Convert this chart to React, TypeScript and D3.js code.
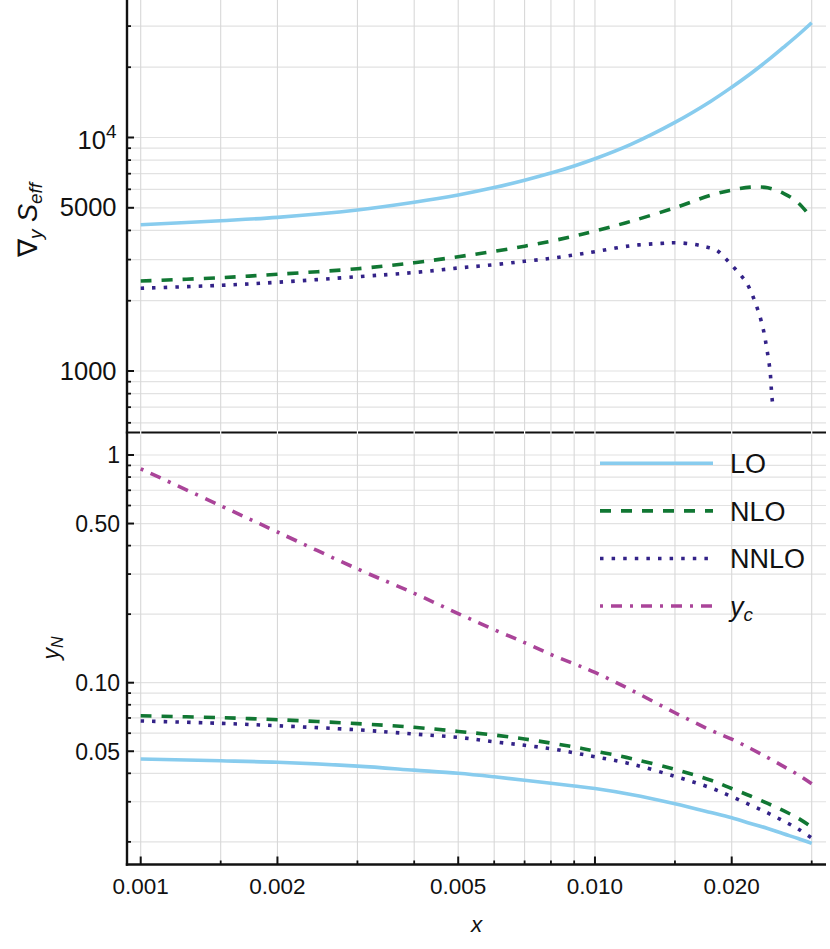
import React from "react";
import * as d3 from "d3";

// shared x grid for most series
const xs = [0.001, 0.0015, 0.002, 0.003, 0.004, 0.005, 0.006, 0.007, 0.008, 0.009, 0.01, 0.012, 0.015, 0.018, 0.02, 0.022, 0.024, 0.026, 0.028, 0.03];

// upper panel: grad_y S_eff
const loTop = [4233, 4403, 4551, 4893, 5279, 5671, 6101, 6561, 7040, 7554, 8110, 9350, 11610, 14310, 16420, 18760, 21380, 24320, 27480, 31010];
const nloTop = [2429, 2510, 2595, 2742, 2909, 3087, 3254, 3424, 3598, 3781, 3973, 4376, 5002, 5665, 5953, 6130, 6090, 5768, 5258, 4508];
const nnloTopX = [0.001, 0.0015, 0.002, 0.003, 0.004, 0.005, 0.006, 0.007, 0.008, 0.009, 0.01, 0.012, 0.014, 0.015, 0.0165, 0.0175, 0.0185, 0.0193, 0.02, 0.0208, 0.0216, 0.0226, 0.0234, 0.0239, 0.0243, 0.0245, 0.02465];
const nnloTop = [2261, 2328, 2399, 2534, 2641, 2761, 2853, 2950, 3038, 3140, 3243, 3440, 3520, 3544, 3488, 3404, 3297, 3060, 2844, 2610, 2374, 1936, 1548, 1242, 994, 788, 703];

// lower panel: y_N
const loBot = [0.0462, 0.0454, 0.0447, 0.043, 0.0413, 0.04, 0.0386, 0.0373, 0.0362, 0.0352, 0.0343, 0.0323, 0.0294, 0.0269, 0.0255, 0.0241, 0.0229, 0.0217, 0.0207, 0.0197];
const nloBot = [0.0716, 0.0702, 0.0688, 0.0661, 0.0637, 0.0611, 0.0589, 0.0566, 0.0543, 0.0522, 0.0501, 0.0465, 0.0416, 0.0373, 0.0343, 0.0318, 0.0295, 0.0274, 0.0254, 0.0232];
const nnloBot = [0.0679, 0.0663, 0.0647, 0.0621, 0.0595, 0.0575, 0.055, 0.0531, 0.0513, 0.0492, 0.0473, 0.044, 0.0388, 0.0345, 0.0316, 0.029, 0.0268, 0.0247, 0.0228, 0.0208];
const ycBot = [0.87, 0.599, 0.459, 0.316, 0.247, 0.201, 0.171, 0.15, 0.133, 0.121, 0.111, 0.093, 0.0738, 0.0618, 0.0565, 0.0514, 0.0469, 0.0429, 0.0394, 0.036];

// ticks
const xMajor = [0.001, 0.002, 0.005, 0.01, 0.02];
const xMajorLabels = ["0.001", "0.002", "0.005", "0.010", "0.020"];
const xMinor = [0.0015, 0.003, 0.004, 0.006, 0.007, 0.008, 0.009, 0.015, 0.03];
const topMajor = [1000, 5000, 10000];
const topMinor = [600, 700, 800, 900, 2000, 3000, 4000, 6000, 7000, 8000, 9000, 20000, 30000];
const botMajor = [0.05, 0.1, 0.5, 1];
const botMajorLabels = ["0.05", "0.10", "0.50", "1"];
const botMinor = [0.02, 0.03, 0.04, 0.06, 0.07, 0.08, 0.09, 0.2, 0.3, 0.4, 0.6, 0.7, 0.8, 0.9];

const legendNames = ["LO", "NLO", "NNLO", "y_c"];

const colors = { lo: "#88CCEE", nlo: "#117733", nnlo: "#332288", yc: "#AA4499" };
const dashes = { lo: "none", nlo: "11 10", nnlo: "3.5 8.1", yc: "3 8 11 8" };

const W = 830;
const H = 949;
const L = 127;
const R = 826;
const topA = 0;
const mid = 432.5;
const botB = 864.5;
const font = "'Liberation Sans', Arial, Helvetica, sans-serif";

export default function App() {
  const x = d3.scaleLog().domain([0.001, 0.03]).range([140.7, 811.7]);
  const yTop = d3.scaleLog().domain([1000, 10000]).range([371, 137.5]);
  const yBot = d3.scaleLog().domain([0.1, 1]).range([682.7, 455]);

  const lineTop = d3
    .line<[number, number]>()
    .x((d) => x(d[0]))
    .y((d) => yTop(d[1]))
    .curve(d3.curveCatmullRom.alpha(0.5));
  const lineBot = d3
    .line<[number, number]>()
    .x((d) => x(d[0]))
    .y((d) => yBot(d[1]))
    .curve(d3.curveCatmullRom.alpha(0.5));

  const zip = (a: number[], b: number[]) => a.map((v, i) => [v, b[i]] as [number, number]);

  const xAll = [...xMajor, ...xMinor];
  const topAll = [...topMajor, ...topMinor];
  const botAll = [...botMajor, ...botMinor];

  const series = [
    { key: "lo", top: zip(xs, loTop), bot: zip(xs, loBot) },
    { key: "nlo", top: zip(xs, nloTop), bot: zip(xs, nloBot) },
    { key: "nnlo", top: zip(nnloTopX, nnloTop), bot: zip(xs, nnloBot) },
    { key: "yc", top: null, bot: zip(xs, ycBot) },
  ];

  const legendY = d3.scaleLinear().domain([0, 3]).range([463.3, 606]);

  return (
    <svg
      width={W}
      height={H}
      style={{ position: "absolute", left: 0, top: 0, background: "#fff" }}
      fontFamily={font}
    >
      <rect width={W} height={H} fill="#fff" />
      {/* grid */}
      <g>
        {topAll.map((v) => (
          <line key={"gt" + v} x1={L} x2={R} y1={yTop(v)} y2={yTop(v)} stroke="#e2e2e2" strokeWidth={1.2} />
        ))}
        {botAll.map((v) => (
          <line key={"gb" + v} x1={L} x2={R} y1={yBot(v)} y2={yBot(v)} stroke="#e2e2e2" strokeWidth={1.2} />
        ))}
        {xAll.map((v) => (
          <line key={"gx" + v} x1={x(v)} x2={x(v)} y1={topA} y2={botB} stroke="#d8d8d8" strokeWidth={1.1} />
        ))}
      </g>

      {/* curves */}
      {series.map((s) => (
        <g key={s.key}>
          {s.top && (
            <path
              d={lineTop(s.top) || ""}
              fill="none"
              stroke={colors[s.key]}
              strokeWidth={3.6}
              strokeDasharray={dashes[s.key]}
            />
          )}
          <path
            d={lineBot(s.bot) || ""}
            fill="none"
            stroke={colors[s.key]}
            strokeWidth={3.6}
            strokeDasharray={dashes[s.key]}
          />
        </g>
      ))}

      {/* axes */}
      <line x1={L} x2={L} y1={topA} y2={botB + 1.2} stroke="#111" strokeWidth={2.4} />
      <line x1={L - 1.2} x2={R} y1={mid} y2={mid} stroke="#111" strokeWidth={2.2} />
      <line x1={L - 1.2} x2={R} y1={botB} y2={botB} stroke="#111" strokeWidth={2.4} />
      {xAll.map((v) => (
        <line key={"wg" + v} x1={x(v)} x2={x(v)} y1={mid - 2} y2={mid + 2} stroke="#fff" strokeWidth={1.2} />
      ))}

      {/* y ticks */}
      {topMajor.map((v) => (
        <line key={"tm" + v} x1={L} x2={L + 7} y1={yTop(v)} y2={yTop(v)} stroke="#111" strokeWidth={2} />
      ))}
      {topMinor.map((v) => (
        <line key={"tn" + v} x1={L} x2={L + 4} y1={yTop(v)} y2={yTop(v)} stroke="#111" strokeWidth={1.8} />
      ))}
      {botMajor.map((v) => (
        <line key={"bm" + v} x1={L} x2={L + 7} y1={yBot(v)} y2={yBot(v)} stroke="#111" strokeWidth={2} />
      ))}
      {botMinor.map((v) => (
        <line key={"bn" + v} x1={L} x2={L + 4} y1={yBot(v)} y2={yBot(v)} stroke="#111" strokeWidth={1.8} />
      ))}
      {xMajor.map((v) => (
        <line key={"xm" + v} x1={x(v)} x2={x(v)} y1={botB} y2={botB - 8} stroke="#111" strokeWidth={2} />
      ))}
      {xMinor.map((v) => (
        <line key={"xn" + v} x1={x(v)} x2={x(v)} y1={botB} y2={botB - 4} stroke="#111" strokeWidth={1.8} />
      ))}

      {/* tick labels */}
      {topMajor.map((v) =>
        v === 10000 ? (
          <text key={"tl" + v} x={116.5} y={yTop(v) + 11.8} textAnchor="end" fontSize={25.5} fill="#111">
            10
            <tspan dy={-11} fontSize={19}>4</tspan>
          </text>
        ) : (
          <text key={"tl" + v} x={116.5} y={yTop(v)} dy="0.34em" textAnchor="end" fontSize={25.5} fill="#111">
            {d3.format("d")(v)}
          </text>
        )
      )}
      {botMajor.map((v, i) => (
        <text key={"bl" + v} x={120} y={yBot(v)} dy="0.36em" textAnchor="end" fontSize={23} fill="#111">
          {botMajorLabels[i]}
        </text>
      ))}
      {xMajor.map((v, i) => (
        <text key={"xl" + v} x={x(v)} y={893.5} textAnchor="middle" fontSize={22.5} fill="#111">
          {xMajorLabels[i]}
        </text>
      ))}

      {/* axis titles */}
      <text x={476.5} y={931.5} textAnchor="middle" fontSize={22.5} fontStyle="italic" fill="#111">
        x
      </text>
      <text transform="translate(37,220) rotate(-90)" textAnchor="middle" fontSize={27} fill="#111">
        ∇
        <tspan fontStyle="italic" fontSize={19} dy={5}>y</tspan>
        <tspan dy={-5}> </tspan>
        <tspan fontStyle="italic">S</tspan>
        <tspan fontStyle="italic" fontSize={19} dy={5}>eff</tspan>
      </text>
      <text transform="translate(59,648) rotate(-90)" textAnchor="middle" fontSize={23} fill="#111">
        <tspan fontStyle="italic">y</tspan>
        <tspan fontStyle="italic" fontSize={16} dy={4}>N</tspan>
      </text>

      {/* legend */}
      {series.map((s, i) => (
        <g key={"lg" + s.key}>
          <line
            x1={600}
            x2={713}
            y1={legendY(i)}
            y2={legendY(i)}
            stroke={colors[s.key]}
            strokeWidth={3.6}
            strokeDasharray={dashes[s.key]}
          />
          {legendNames[i] === "y_c" ? (
            <text x={730} y={legendY(i) + 9.7} fontSize={27} fill="#111">
              <tspan fontStyle="italic">y</tspan>
              <tspan fontStyle="italic" fontSize={19} dy={5}>c</tspan>
            </text>
          ) : (
            <text x={730} y={legendY(i) + 9.7} fontSize={27} fill="#111">
              {legendNames[i]}
            </text>
          )}
        </g>
      ))}
    </svg>
  );
}
